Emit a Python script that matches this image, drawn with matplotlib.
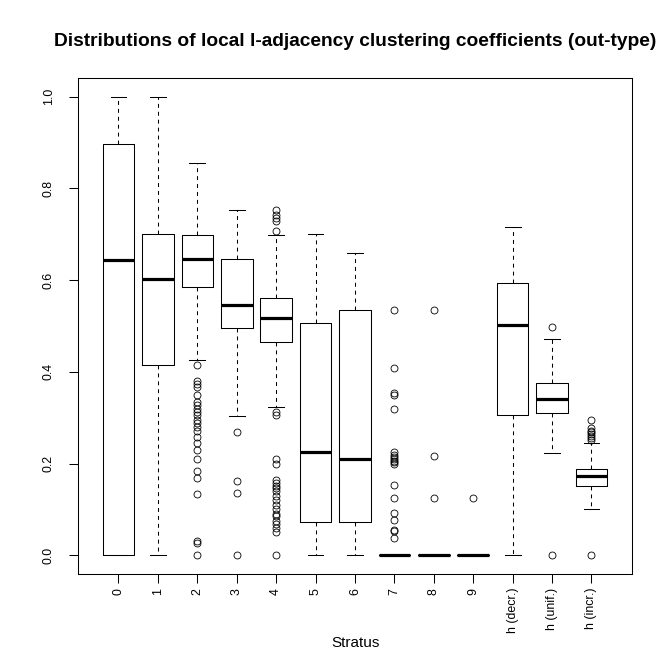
import matplotlib
matplotlib.use("Agg")
import matplotlib.pyplot as plt

plt.rcParams['font.family'] = ['Liberation Sans', 'DejaVu Sans']

# strata and box statistics
labels = ['0', '1', '2', '3', '4', '5', '6', '7', '8', '9',
          'h (decr.)', 'h (unif.)', 'h (incr.)']
q1 = [0.0, 0.415, 0.585, 0.495, 0.465, 0.072, 0.072, 0.0, 0.0, 0.0, 0.305, 0.31, 0.152]
med = [0.644, 0.602, 0.646, 0.546, 0.517, 0.225, 0.21, 0.0, 0.0, 0.0, 0.502, 0.34, 0.172]
q3 = [0.897, 0.701, 0.699, 0.646, 0.561, 0.507, 0.535, 0.0, 0.0, 0.0, 0.594, 0.375, 0.189]
whislo = [0.0, 0.0, 0.425, 0.304, 0.323, 0.0, 0.0, 0.0, 0.0, 0.0, 0.0, 0.224, 0.1]
whishi = [1.0, 1.0, 0.856, 0.753, 0.699, 0.70, 0.66, 0.0, 0.0, 0.0, 0.716, 0.471, 0.244]

fliers = [
    [],
    [],
    [0.415, 0.379, 0.373, 0.368, 0.35, 0.335, 0.328, 0.32, 0.313, 0.306, 0.295,
     0.288, 0.279, 0.272, 0.258, 0.244, 0.229, 0.21, 0.184, 0.168, 0.133,
     0.031, 0.026, 0.0],
    [0.268, 0.162, 0.135, 0.0],
    [0.753, 0.742, 0.735, 0.728, 0.706, 0.313, 0.306, 0.211, 0.2, 0.164, 0.158,
     0.152, 0.146, 0.14, 0.13, 0.12, 0.11, 0.10, 0.09, 0.085, 0.075, 0.068,
     0.06, 0.05, 0.0],
    [],
    [],
    [0.535, 0.408, 0.353, 0.35, 0.32, 0.226, 0.218, 0.214, 0.21, 0.206, 0.203,
     0.2, 0.154, 0.124, 0.092, 0.078, 0.056, 0.053, 0.038],
    [0.535, 0.217, 0.124],
    [0.124],
    [],
    [0.497, 0.0],
    [0.294, 0.277, 0.272, 0.268, 0.264, 0.26, 0.256, 0.252, 0.0],
]

stats = []
for i in range(len(labels)):
    stats.append(dict(label=labels[i], q1=q1[i], med=med[i], q3=q3[i],
                      whislo=whislo[i], whishi=whishi[i], fliers=fliers[i]))

fig = plt.figure(figsize=(6.72, 6.72), dpi=100)
ax = fig.add_axes([0.1165, 0.1463, 0.8235, 0.7372])

lw = 0.75
ax.bxp(stats, positions=range(1, len(labels) + 1), widths=0.8,
       boxprops=dict(color='black', linewidth=lw),
       whiskerprops=dict(color='black', linewidth=lw, linestyle=(0, (3.8, 3.8))),
       capprops=dict(color='black', linewidth=lw),
       medianprops=dict(color='black', linewidth=2.3, solid_capstyle='butt'),
       flierprops=dict(marker='o', markersize=5.0, markerfacecolor='none',
                       markeredgecolor='black', markeredgewidth=0.6))

ax.set_xlim(-0.02, 14.02)
ax.set_ylim(-0.04, 1.04)
ax.set_yticks([0.0, 0.2, 0.4, 0.6, 0.8, 1.0])
ax.set_yticklabels(['0.0', '0.2', '0.4', '0.6', '0.8', '1.0'], rotation=90, va='center')
ax.set_xticks(range(1, len(labels) + 1))
ax.set_xticklabels(labels, rotation=90)
ax.tick_params(axis='both', direction='out', length=6.8, width=0.75,
               labelsize=8.9, color='black')
ax.tick_params(axis='y', pad=10)
ax.tick_params(axis='x', pad=3.5)

for s in ax.spines.values():
    s.set_linewidth(0.75)

fig.text(0.5285, 0.9375, 'Distributions of local l-adjacency clustering coefficients (out-type)',
         ha='center', va='center', fontsize=13.8, fontweight='bold')
fig.text(0.5285, 0.0435, 'Stratus', ha='center', va='center', fontsize=11)

fig.savefig('out.png', dpi=100)
